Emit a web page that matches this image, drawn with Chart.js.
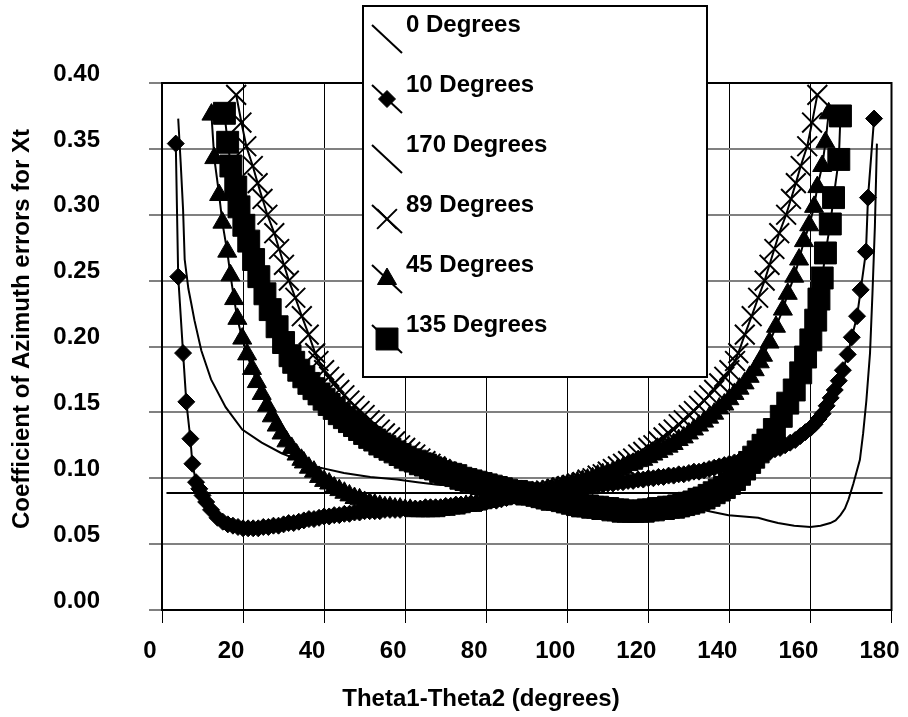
<!DOCTYPE html>
<html>
<head>
<meta charset="utf-8">
<script src="https://cdn.jsdelivr.net/npm/chart.js@4.4.0/dist/chart.umd.min.js"></script>
<style>
  html, body { margin: 0; padding: 0; background: #fff; }
  #wrap { width: 908px; height: 717px; }
</style>
</head>
<body>
<div id="wrap"><canvas id="chart" width="908" height="717"></canvas></div>
<script>
// Axis ticks
const xTickLabels = ['0', '20', '40', '60', '80', '100', '120', '140', '160', '180'];
const yTickLabels = ['0.00', '0.05', '0.10', '0.15', '0.20', '0.25', '0.30', '0.35', '0.40'];

// Series: [theta1-theta2 (deg), coefficient]
const deg0 = [[1.1, 0.0888], [177.8, 0.0888]];

const deg10 = [
  [3.4, 0.354], [4.0, 0.253], [5.2, 0.195], [6.0, 0.158], [7.0, 0.130], [7.5, 0.111], [8.4, 0.097],
  [9.2, 0.092], [10.0, 0.087], [10.9, 0.082], [12.1, 0.076], [13.7, 0.070],
  [15, 0.067], [16.25, 0.065], [17.5, 0.064], [18.75, 0.063], [20, 0.062], [21.25, 0.062], [22.5, 0.062],
  [23.75, 0.062], [25, 0.063], [26.25, 0.063], [27.5, 0.064], [28.75, 0.064], [30, 0.065], [31.25, 0.066],
  [32.5, 0.066], [33.75, 0.067], [35, 0.068], [36.25, 0.069], [37.5, 0.069], [38.75, 0.070], [40, 0.071],
  [41.25, 0.071], [42.5, 0.072], [43.75, 0.072], [45, 0.073], [46.25, 0.073], [47.5, 0.074], [48.75, 0.074],
  [50, 0.075], [51.25, 0.075], [52.5, 0.075], [53.75, 0.075], [55, 0.076], [56.25, 0.076], [57.5, 0.076],
  [58.75, 0.076], [60, 0.077], [61.25, 0.077], [62.5, 0.077], [63.75, 0.077], [65, 0.078], [66.25, 0.078],
  [67.5, 0.078], [68.75, 0.078], [70, 0.079], [71.25, 0.079], [72.5, 0.080], [73.75, 0.080], [75, 0.080],
  [76.25, 0.081], [77.5, 0.081], [78.75, 0.081], [80, 0.082], [81.25, 0.083], [82.5, 0.083], [83.75, 0.084],
  [85, 0.085], [86.25, 0.086], [87.5, 0.087], [88.75, 0.087], [90, 0.088], [91.25, 0.088], [92.5, 0.089],
  [93.75, 0.089], [95, 0.090], [96.25, 0.090], [97.5, 0.091], [98.75, 0.091], [100, 0.092], [101.25, 0.092],
  [102.5, 0.093], [103.75, 0.093], [105, 0.094], [106.25, 0.094], [107.5, 0.095], [108.75, 0.095],
  [110, 0.096], [111.25, 0.096], [112.5, 0.097], [113.75, 0.097], [115, 0.098], [116.25, 0.098],
  [117.5, 0.099], [118.75, 0.099], [120, 0.100], [121.25, 0.100], [122.5, 0.101], [123.75, 0.101],
  [125, 0.102], [126.25, 0.102], [127.5, 0.103], [128.75, 0.103], [130, 0.104], [131.25, 0.105],
  [132.5, 0.105], [133.75, 0.106], [135, 0.107], [136.25, 0.108], [137.5, 0.109], [138.75, 0.110],
  [140, 0.111], [141.25, 0.112], [142.5, 0.113], [143.75, 0.114], [145, 0.115], [146.25, 0.116],
  [147.5, 0.117], [148.75, 0.119], [150, 0.120], [151.25, 0.122], [152.5, 0.123], [153.75, 0.125],
  [155, 0.127], [156.25, 0.129], [157.5, 0.132], [158.75, 0.135], [160, 0.138],
  [161, 0.141], [162, 0.145], [163, 0.149], [164, 0.155], [165, 0.161], [166, 0.167], [167, 0.174],
  [168, 0.182], [169.2, 0.194], [170.2, 0.207], [171.5, 0.223], [172.4, 0.243], [173.7, 0.272],
  [174.2, 0.313], [175.7, 0.373]
];

const deg170 = [
  [4.0, 0.373], [4.6, 0.340], [5.2, 0.304], [5.6, 0.266], [6.5, 0.244], [7.2, 0.233], [8.0, 0.220],
  [9.7, 0.197], [12.1, 0.175], [15.7, 0.154], [19.8, 0.137], [24.6, 0.127], [29.5, 0.119], [33.6, 0.114],
  [37.6, 0.109], [44.9, 0.104], [51.4, 0.101], [58, 0.099], [63, 0.097], [68, 0.095], [75, 0.094],
  [80, 0.092], [85, 0.090], [90, 0.088], [95, 0.087], [100, 0.085], [105, 0.084], [110, 0.082],
  [115, 0.081], [120, 0.080], [125, 0.079], [130, 0.077], [133.3, 0.076], [136.5, 0.074], [139.8, 0.072],
  [143.5, 0.071], [147.1, 0.070], [149.5, 0.068], [152, 0.066], [156, 0.064], [160, 0.063], [162.5, 0.064],
  [164.9, 0.066], [166.2, 0.068], [167.4, 0.072], [168.5, 0.077], [169.4, 0.084], [170.6, 0.096],
  [172.2, 0.114], [173, 0.134], [173.8, 0.159], [174.7, 0.195], [175.3, 0.240], [175.9, 0.291], [176.4, 0.354]
];

const deg89 = [
  [18.3, 0.391], [19.6, 0.370], [20.8, 0.352], [22.4, 0.337], [23.6, 0.324], [24.8, 0.312], [26.0, 0.300],
  [27.7, 0.286], [28.9, 0.274], [30.1, 0.262], [31.3, 0.250], [32.9, 0.237], [34.5, 0.223], [36.2, 0.209],
  [37.8, 0.195], [38.6, 0.189],
  [40, 0.182], [41.25, 0.177], [42.5, 0.172], [43.75, 0.167], [45, 0.163], [46.25, 0.159], [47.5, 0.155],
  [48.75, 0.151], [50, 0.148], [51.25, 0.144], [52.5, 0.141], [53.75, 0.137], [55, 0.134], [56.25, 0.131],
  [57.5, 0.128], [58.75, 0.125], [60, 0.123], [61.25, 0.120], [62.5, 0.118], [63.75, 0.115], [65, 0.113],
  [66.25, 0.111], [67.5, 0.109], [68.75, 0.107], [70, 0.105], [71.25, 0.103], [72.5, 0.102], [73.75, 0.100],
  [75, 0.099], [76.25, 0.097], [77.5, 0.096], [78.75, 0.095], [80, 0.094], [81.25, 0.093], [82.5, 0.092],
  [83.75, 0.091], [85, 0.090], [86.25, 0.090], [87.5, 0.089], [88.75, 0.089], [90, 0.088], [91.25, 0.089],
  [92.5, 0.089], [93.75, 0.090], [95, 0.090], [96.25, 0.091], [97.5, 0.092], [98.75, 0.093], [100, 0.094],
  [101.25, 0.095], [102.5, 0.096], [103.75, 0.097], [105, 0.099], [106.25, 0.100], [107.5, 0.102],
  [108.75, 0.103], [110, 0.105], [111.25, 0.107], [112.5, 0.109], [113.75, 0.111], [115, 0.113],
  [116.25, 0.115], [117.5, 0.118], [118.75, 0.120], [120, 0.123], [121.25, 0.125], [122.5, 0.128],
  [123.75, 0.131], [125, 0.134], [126.25, 0.137], [127.5, 0.141], [128.75, 0.144], [130, 0.148],
  [131.25, 0.151], [132.5, 0.155], [133.75, 0.159], [135, 0.163], [136.25, 0.167], [137.5, 0.172],
  [138.75, 0.177], [140, 0.182],
  [141.4, 0.189], [142.2, 0.195], [143.8, 0.209], [145.5, 0.223], [147.1, 0.237], [148.7, 0.250],
  [149.9, 0.262], [151.1, 0.274], [152.3, 0.286], [154.0, 0.300], [155.2, 0.312], [156.4, 0.324],
  [157.6, 0.337], [159.2, 0.352], [160.4, 0.370], [161.7, 0.391]
];

const deg45 = [
  [12.2, 0.376], [12.9, 0.343], [14.1, 0.315], [14.9, 0.294], [16.1, 0.272], [16.9, 0.254], [17.8, 0.236],
  [18.6, 0.221], [19.8, 0.206], [21.0, 0.194], [22.2, 0.183], [23.4, 0.173], [24.6, 0.164], [25.9, 0.155],
  [27.1, 0.147], [28.3, 0.140], [29.5, 0.134], [30.7, 0.128], [32.0, 0.123], [33.2, 0.118], [34.4, 0.114],
  [35, 0.112], [36.25, 0.108], [37.5, 0.105], [38.75, 0.101], [40, 0.098], [41.25, 0.096], [42.5, 0.093],
  [43.75, 0.091], [45, 0.089], [46.25, 0.087], [47.5, 0.085], [48.75, 0.084], [50, 0.082], [51.25, 0.081],
  [52.5, 0.080], [53.75, 0.079], [55, 0.078], [56.25, 0.078], [57.5, 0.077], [58.75, 0.077], [60, 0.076],
  [61.25, 0.076], [62.5, 0.075], [63.75, 0.075], [65, 0.075], [66.25, 0.075], [67.5, 0.075], [68.75, 0.076],
  [70, 0.076], [71.25, 0.077], [72.5, 0.077], [73.75, 0.078], [75, 0.079], [76.25, 0.079], [77.5, 0.080],
  [78.75, 0.081], [80, 0.082], [81.25, 0.083], [82.5, 0.084], [83.75, 0.084], [85, 0.085], [86.25, 0.086],
  [87.5, 0.087], [88.75, 0.088], [90, 0.088], [91.25, 0.089], [92.5, 0.090], [93.75, 0.090], [95, 0.091],
  [96.25, 0.092], [97.5, 0.093], [98.75, 0.094], [100, 0.095], [101.25, 0.096], [102.5, 0.097],
  [103.75, 0.098], [105, 0.099], [106.25, 0.100], [107.5, 0.102], [108.75, 0.103], [110, 0.104],
  [111.25, 0.105], [112.5, 0.107], [113.75, 0.108], [115, 0.110], [116.25, 0.111], [117.5, 0.113],
  [118.75, 0.114], [120, 0.116], [121.25, 0.118], [122.5, 0.120], [123.75, 0.122], [125, 0.124],
  [126.25, 0.126], [127.5, 0.129], [128.75, 0.131], [130, 0.134], [131.25, 0.137], [132.5, 0.140],
  [133.75, 0.143], [135, 0.146], [136.25, 0.149], [137.5, 0.153], [138.75, 0.156], [140, 0.160],
  [141.25, 0.164], [142.5, 0.168], [143.75, 0.172], [145, 0.177], [146.25, 0.182], [147.5, 0.188],
  [148.3, 0.193], [149.9, 0.203], [151.5, 0.215], [153.2, 0.228], [154.4, 0.240], [156.0, 0.253],
  [157.2, 0.266], [158.4, 0.280], [159.7, 0.292], [160.9, 0.306], [161.7, 0.321], [162.9, 0.337],
  [163.7, 0.355], [164.5, 0.377]
];

const deg135 = [
  [15.4, 0.377], [16.2, 0.355], [17.0, 0.337], [18.2, 0.321], [19.0, 0.306], [20.2, 0.292], [21.4, 0.280],
  [22.6, 0.266], [23.9, 0.253], [25.4, 0.240], [26.7, 0.228], [28.4, 0.215], [30.0, 0.203], [31.6, 0.193],
  [32.5, 0.188], [33.75, 0.182], [35, 0.177], [36.25, 0.172], [37.5, 0.168], [38.75, 0.164], [40, 0.160],
  [41.25, 0.156], [42.5, 0.153], [43.75, 0.149], [45, 0.146], [46.25, 0.143], [47.5, 0.140], [48.75, 0.137],
  [50, 0.134], [51.25, 0.131], [52.5, 0.129], [53.75, 0.126], [55, 0.124], [56.25, 0.122], [57.5, 0.120],
  [58.75, 0.118], [60, 0.116], [61.25, 0.114], [62.5, 0.113], [63.75, 0.111], [65, 0.110], [66.25, 0.108],
  [67.5, 0.107], [68.75, 0.105], [70, 0.104], [71.25, 0.103], [72.5, 0.102], [73.75, 0.100], [75, 0.099],
  [76.25, 0.098], [77.5, 0.097], [78.75, 0.096], [80, 0.095], [81.25, 0.094], [82.5, 0.093], [83.75, 0.092],
  [85, 0.091], [86.25, 0.090], [87.5, 0.090], [88.75, 0.089], [90, 0.088], [91.25, 0.088], [92.5, 0.087],
  [93.75, 0.086], [95, 0.085], [96.25, 0.084], [97.5, 0.084], [98.75, 0.083], [100, 0.082], [101.25, 0.081],
  [102.5, 0.080], [103.75, 0.079], [105, 0.079], [106.25, 0.078], [107.5, 0.078], [108.75, 0.077],
  [110, 0.077], [111.25, 0.076], [112.5, 0.076], [113.75, 0.075], [115, 0.075], [116.25, 0.075],
  [117.5, 0.075], [118.75, 0.075], [120, 0.076], [121.25, 0.076], [122.5, 0.077], [123.75, 0.077],
  [125, 0.078], [126.25, 0.078], [127.5, 0.079], [128.75, 0.080], [130, 0.081], [131.25, 0.082],
  [132.5, 0.084], [133.75, 0.085], [135, 0.087], [136.25, 0.089], [137.5, 0.091], [138.75, 0.093],
  [140, 0.096], [141.25, 0.099], [142.5, 0.103], [143.75, 0.107], [145, 0.112],
  [146.0, 0.116], [147.1, 0.120], [148.3, 0.125], [149.5, 0.129], [151.1, 0.137], [152.8, 0.147],
  [154.4, 0.157], [156.0, 0.167], [157.6, 0.180], [158.8, 0.192], [160.1, 0.205], [161.3, 0.220],
  [162.1, 0.236], [162.9, 0.252], [163.7, 0.271], [164.9, 0.293], [165.7, 0.313], [167.0, 0.342],
  [167.4, 0.375]
];

const seriesNames = ['0 Degrees', '10 Degrees', '170 Degrees', '89 Degrees', '45 Degrees', '135 Degrees'];
const seriesData = [deg0, deg10, deg170, deg89, deg45, deg135];
const seriesMarkers = [null, 'rectRot', null, 'crossRot', 'triangle', 'rect'];
const markerRadius = [0, 8.5, 0, 14, 11, 15.5];

const FONT = '"Liberation Sans", Arial, Helvetica, sans-serif';
Chart.defaults.font.family = FONT;
Chart.defaults.color = '#000';

const datasets = seriesData.map((pts, i) => ({
  label: seriesNames[i],
  data: pts.map(p => ({ x: p[0], y: p[1] })),
  borderColor: '#000',
  backgroundColor: '#000',
  borderWidth: 2,
  pointStyle: seriesMarkers[i] || 'circle',
  pointRadius: seriesMarkers[i] ? markerRadius[i] : 0,
  pointBorderWidth: seriesMarkers[i] === 'crossRot' ? 2 : 1,
  pointBorderColor: '#000',
  pointBackgroundColor: '#000',
  tension: 0,
  order: 5 - i  // later series on top, like the original
}));

function drawMark(ctx, style, x, y, r) {
  ctx.beginPath();
  if (style === 'rectRot') {
    ctx.moveTo(x, y - r); ctx.lineTo(x + r, y); ctx.lineTo(x, y + r); ctx.lineTo(x - r, y);
    ctx.closePath(); ctx.fill(); ctx.stroke();
  } else if (style === 'triangle') {
    ctx.moveTo(x, y - r); ctx.lineTo(x + r * 0.866, y + r / 2); ctx.lineTo(x - r * 0.866, y + r / 2);
    ctx.closePath(); ctx.fill(); ctx.stroke();
  } else if (style === 'rect') {
    const s = r * Math.SQRT1_2;
    ctx.rect(x - s, y - s, 2 * s, 2 * s); ctx.fill(); ctx.stroke();
  } else if (style === 'crossRot') {
    const d = r * Math.SQRT1_2;
    ctx.lineWidth = 2;
    ctx.moveTo(x - d, y - d); ctx.lineTo(x + d, y + d);
    ctx.moveTo(x + d, y - d); ctx.lineTo(x - d, y + d);
    ctx.stroke();
  }
}

// frame, axis titles and the boxed legend
const decorations = {
  id: 'decorations',
  beforeDatasetsDraw(chart) {
    const { ctx, chartArea: a } = chart;
    ctx.save();
    ctx.strokeStyle = '#000';
    ctx.lineWidth = 2;
    ctx.strokeRect(a.left, a.top, a.right - a.left, a.bottom - a.top);
    ctx.restore();
  },
  afterDraw(chart) {
    const ctx = chart.ctx;
    ctx.save();
    ctx.fillStyle = '#000';
    ctx.font = 'bold 24px ' + FONT;
    ctx.textAlign = 'center';
    ctx.textBaseline = 'alphabetic';
    ctx.fillText('Theta1-Theta2 (degrees)', 481, 706);
    ctx.save();
    ctx.translate(22, 329);
    ctx.rotate(-Math.PI / 2);
    ctx.textBaseline = 'middle';
    ctx.fillText('Coefficient of Azimuth errors for Xt', 0, 0);
    ctx.restore();

    // legend box
    ctx.fillStyle = '#fff';
    ctx.fillRect(363, 6, 344, 371);
    ctx.strokeStyle = '#000';
    ctx.lineWidth = 2;
    ctx.strokeRect(363, 6, 344, 371);
    ctx.textAlign = 'left';
    seriesNames.forEach((name, i) => {
      const cy = 39 + 60 * i;
      ctx.strokeStyle = '#000';
      ctx.fillStyle = '#000';
      ctx.lineWidth = 2;
      ctx.beginPath();
      ctx.moveTo(372, cy - 14);
      ctx.lineTo(402, cy + 14);
      ctx.stroke();
      if (seriesMarkers[i]) {
        ctx.lineWidth = 1;
        drawMark(ctx, seriesMarkers[i], 387, cy, markerRadius[i]);
      }
      ctx.fillStyle = '#000';
      ctx.fillText(name, 406, 32 + 60 * i);
    });
    ctx.restore();
  }
};

new Chart(document.getElementById('chart'), {
  type: 'line',
  data: { datasets },
  options: {
    responsive: false,
    devicePixelRatio: 1,
    animation: false,
    layout: { padding: { top: 83, right: 6, bottom: 0, left: 0 } },
    plugins: { legend: { display: false }, tooltip: { enabled: false } },
    scales: {
      x: {
        type: 'linear',
        min: 0,
        max: 180,
        ticks: {
          stepSize: 20,
          autoSkip: false,
          maxRotation: 0,
          padding: 14,
          labelOffset: -12,
          font: { size: 24, weight: 'bold' },
          color: '#000',
          callback: (v, i) => xTickLabels[i]
        },
        grid: { color: '#000', lineWidth: 1, tickLength: 13 },
        border: { display: false },
        afterFit: s => { s.height = 107; s.paddingLeft = 0; s.paddingRight = 0; }
      },
      y: {
        min: 0,
        max: 0.4,
        ticks: {
          stepSize: 0.05,
          autoSkip: false,
          padding: 49,
          labelOffset: -9,
          font: { size: 24, weight: 'bold' },
          color: '#000',
          callback: (v, i) => yTickLabels[i]
        },
        grid: { color: '#808080', lineWidth: 2, tickLength: 13 },
        border: { display: false },
        afterFit: s => { s.width = 162; s.paddingTop = 0; s.paddingBottom = 0; }
      }
    }
  },
  plugins: [decorations]
});
</script>
</body>
</html>
